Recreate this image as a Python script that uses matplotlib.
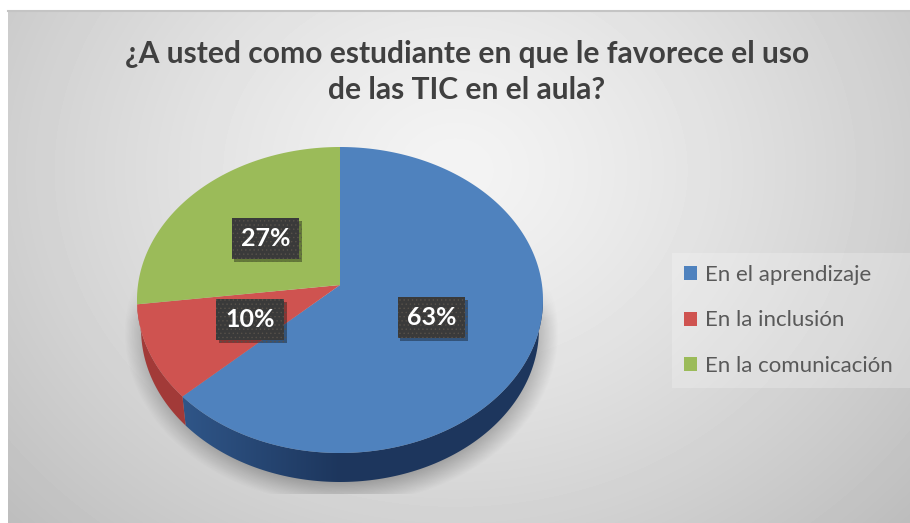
import numpy as np
import matplotlib
matplotlib.use('Agg')
import matplotlib.pyplot as plt
import matplotlib.patheffects as pe
from matplotlib.patches import Patch, Polygon, Rectangle

plt.rcParams['font.family'] = ['Lato', 'DejaVu Sans']
plt.rcParams['hatch.linewidth'] = 0.5

# datos
categories = ['En el aprendizaje', 'En la inclusión', 'En la comunicación']
values = [63, 10, 27]
colors = ['#4f82be', '#cf5350', '#9bbb59']
title = '¿A usted como estudiante en que le favorece el uso\nde las TIC en el aula?'

# geometria del pastel en pixeles
cx, cy, rx, ry = 340, 300, 203, 153
apex_y = 285
depth = 29


def rim(angles):
    # punto del borde visto desde el vertice (perspectiva)
    p = (apex_y - cy) / ry
    dx, dy = np.sin(angles), -np.cos(angles)
    b = p * dy
    t = -b + np.sqrt(b ** 2 - (p ** 2 - 1))
    return dx * t, p + dy * t


fig = plt.figure(figsize=(9.10, 5.23), dpi=100)
ax = fig.add_axes([0, 0, 1, 1])
ax.axis('off')

# fondo con degradado radial
xx, yy = np.meshgrid(np.arange(8, 910), np.arange(10, 523))
dist = np.sqrt(((xx - 455) / 560) ** 2 + ((yy - 170) / 470) ** 2)
bg = 0.955 - 0.19 * np.clip(dist, 0, 1.2) ** 1.3
ax.imshow(bg, extent=(8, 910, 523, 10), cmap='gray', vmin=0, vmax=1, aspect='auto', zorder=0)
ax.plot([8, 910], [11, 11], color='#c4c4c4', lw=1.5, zorder=1)

# sombra
xx, yy = np.meshgrid(np.arange(100, 590), np.arange(280, 494))
d = np.sqrt(((xx - 341) / 217) ** 2 + ((yy - 332) / 172) ** 2)
alpha = 0.38 * np.clip((1 - d) / 0.13, 0, 1) * np.clip((yy - 285) / 35, 0, 1)
shadow = np.zeros(xx.shape + (4,))
shadow[..., :3] = 0.25
shadow[..., 3] = alpha
ax.imshow(shadow, extent=(100, 590, 494, 280), aspect='auto', zorder=2)

# caras laterales y superiores
fractions = np.cumsum([0] + values) / sum(values)
for i, color in enumerate(colors):
    a = np.linspace(fractions[i], fractions[i + 1], 200) * 2 * np.pi
    ex, ey = rim(a)
    top = np.column_stack([cx + rx * ex, cy + ry * ey])
    low = np.column_stack([cx + 0.98 * rx * ex, cy + depth + ry * ey])
    side = np.vstack([top, low[::-1]])
    if i == 0:
        # lado azul con degradado horizontal
        gx = np.arange(170, 560)
        rgb = np.column_stack([np.interp(gx, [175, 340], [0x30, 0x1d]),
                               np.interp(gx, [175, 340], [0x57, 0x36]),
                               np.interp(gx, [175, 340], [0x8a, 0x5d])]) / 255
        im = ax.imshow(rgb[np.newaxis, :, :], extent=(170, 560, 500, 300), aspect='auto', zorder=3)
        im.set_clip_path(Polygon(side, closed=True, transform=ax.transData))
    elif i == 1:
        ax.add_patch(Polygon(side, closed=True, fc='#a23a38', ec='none', zorder=3))

    face = np.vstack([[cx, apex_y], top])
    ax.add_patch(Polygon(face, closed=True, fc=color, ec='none', zorder=4))

# etiquetas de porcentaje
for i, v in enumerate(values):
    mid = (fractions[i] + fractions[i + 1]) * np.pi
    lx = cx + 0.49 * rx * np.sin(mid)
    ly = apex_y + 3 - 0.49 * ry * np.cos(mid)
    t = ax.text(lx, ly, f'{v}%', color='white', fontsize=18, fontweight='bold',
                ha='center', va='center', zorder=6,
                bbox=dict(boxstyle='square,pad=0.36', fc='#3a3a3a', ec='#57514a', lw=0, hatch='....'))
    t.get_bbox_patch().set_path_effects([
        pe.SimplePatchShadow(offset=(2, -2), shadow_rgbFace='black', alpha=0.35), pe.Normal()])

ax.text(467, 72, title, color='#404040', fontsize=21.6, fontweight='bold',
        ha='center', va='center', linespacing=1.35, zorder=6)

# leyenda
ax.add_patch(Rectangle((672, 253), 238, 135, fc='white', ec='none', alpha=0.22, zorder=5))
handles = [Patch(fc=c, ec='none') for c in colors]
ax.legend(handles, categories, loc='center left', bbox_to_anchor=(672 / 910, 1 - 320.5 / 523),
          frameon=False, fontsize=16, labelcolor='#595959', handlelength=0.6, handleheight=0.6,
          handletextpad=0.36, labelspacing=1.15, borderpad=0.52, borderaxespad=0)

ax.set_xlim(0, 910)
ax.set_ylim(523, 0)
fig.savefig('out.png', dpi=100, facecolor='white')
